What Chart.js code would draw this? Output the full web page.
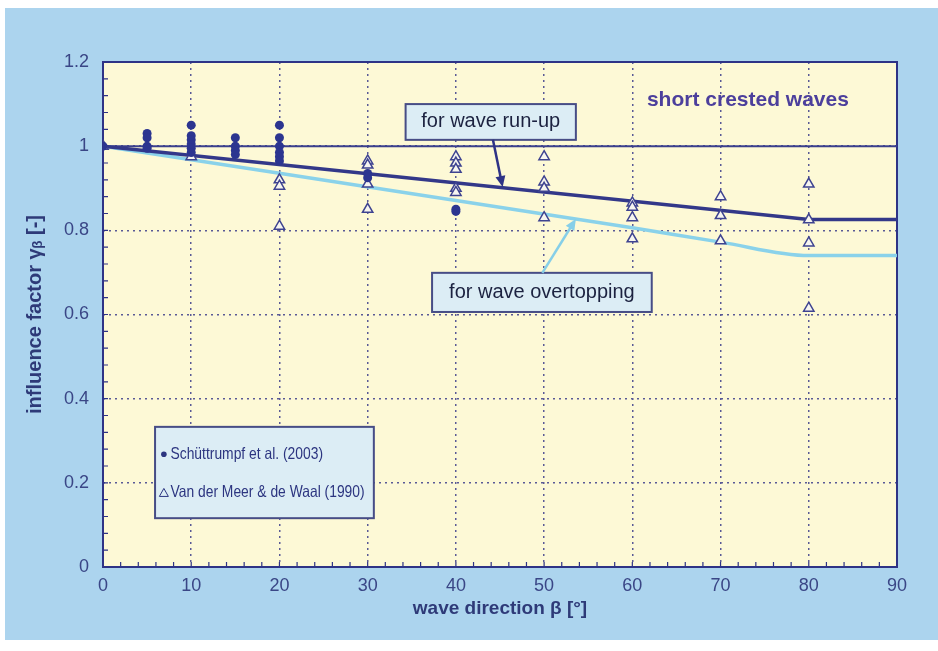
<!DOCTYPE html>
<html>
<head>
<meta charset="utf-8">
<script src="https://cdn.jsdelivr.net/npm/chart.js@4.4.1/dist/chart.umd.min.js"></script>
<style>
  html, body { margin: 0; padding: 0; background: #fff; }
  #wrap { width: 938px; height: 651px; position: relative; }
</style>
</head>
<body>
<div id="wrap"><canvas id="chart" width="938" height="651"></canvas></div>
<script>
// axis ticks
var xTicks = [0, 10, 20, 30, 40, 50, 60, 70, 80, 90];
var yTicks = [0, 0.2, 0.4, 0.6, 0.8, 1, 1.2];

// design lines
var runupX = [0, 80, 90];
var runupY = [1.0, 0.826, 0.826];
var overX = [0, 60, 70, 80, 90];
var overY = [1.0, 0.806, 0.772, 0.740, 0.740];
var refX = [0, 90];
var refY = [1.0, 1.0];

// Schuettrumpf et al. (2003)
var schX = [0, 5, 5, 5, 5, 10, 10, 10, 10, 10, 10, 15, 15, 15, 15, 20, 20, 20, 20, 20, 20, 30, 30, 40, 40];
var schY = [1.0, 1.03, 1.02, 1.0, 0.995, 1.05, 1.025, 1.015, 1.005, 0.995, 0.985, 1.02, 1.0, 0.99, 0.98,
            1.05, 1.02, 1.0, 0.985, 0.975, 0.965, 0.935, 0.925, 0.85, 0.845];

// Van der Meer & de Waal (1990)
var vdmX = [0, 10, 20, 20, 20, 30, 30, 30, 30, 40, 40, 40, 40, 40, 50, 50, 50, 50, 60, 60, 60, 60, 70, 70, 70, 80, 80, 80, 80];
var vdmY = [1.0, 0.975, 0.92, 0.905, 0.81, 0.965, 0.955, 0.91, 0.85, 0.975, 0.96, 0.945, 0.9, 0.89,
            0.975, 0.915, 0.9, 0.83, 0.865, 0.855, 0.83, 0.78, 0.88, 0.835, 0.775, 0.91, 0.825, 0.77, 0.615];

function pts(xs, ys) {
  return xs.map(function (x, i) { return { x: x, y: ys[i] }; });
}

var NAVY = '#2e3386';
var LABEL = '#3a4686';
var FONT = '"Liberation Sans", Arial, sans-serif';

/*
背景、枠、小目盛り、注記
*/
var decor = {
  id: 'decor',
  beforeDraw: function (chart) {
    var ctx = chart.ctx, a = chart.chartArea;
    ctx.save();
    ctx.fillStyle = '#ffffff';
    ctx.fillRect(0, 0, chart.width, chart.height);
    ctx.fillStyle = '#acd4ee';
    ctx.fillRect(5, 8, chart.width - 5, 632);
    ctx.fillStyle = '#fdf9d6';
    ctx.fillRect(a.left, a.top, a.right - a.left, a.bottom - a.top);
    ctx.restore();
  },
  beforeDatasetsDraw: function (chart) {
    var ctx = chart.ctx, a = chart.chartArea;
    var xs = chart.scales.x, ys = chart.scales.y;
    ctx.save();
    ctx.strokeStyle = NAVY;
    ctx.lineWidth = 1.2;
    ctx.beginPath();
    for (var v = 0; v <= 90; v += 2) {
      var px = xs.getPixelForValue(v);
      ctx.moveTo(px, a.bottom);
      ctx.lineTo(px, a.bottom - 5);
    }
    for (var k = 0; k <= 30; k++) {
      var py = ys.getPixelForValue(k * 0.04);
      ctx.moveTo(a.left, py);
      ctx.lineTo(a.left + 5, py);
    }
    ctx.stroke();
    ctx.lineWidth = 2;
    ctx.strokeRect(a.left, a.top, a.right - a.left, a.bottom - a.top);
    ctx.restore();
  },
  afterDatasetsDraw: function (chart) {
    var ctx = chart.ctx;
    var xs = chart.scales.x, ys = chart.scales.y;
    function X(v) { return xs.getPixelForValue(v); }
    function Y(v) { return ys.getPixelForValue(v); }

    function box(x0, y0, x1, y1) {
      ctx.fillStyle = '#dcedf5';
      ctx.fillRect(X(x0), Y(y0), X(x1) - X(x0), Y(y1) - Y(y0));
      ctx.strokeStyle = '#474d86';
      ctx.lineWidth = 2;
      ctx.strokeRect(X(x0), Y(y0), X(x1) - X(x0), Y(y1) - Y(y0));
    }
    function arrow(x0, y0, x1, y1, color) {
      var ax = X(x0), ay = Y(y0), bx = X(x1), by = Y(y1);
      var ang = Math.atan2(by - ay, bx - ax);
      ctx.strokeStyle = color;
      ctx.fillStyle = color;
      ctx.lineWidth = 2.5;
      ctx.beginPath();
      ctx.moveTo(ax, ay);
      ctx.lineTo(bx - 8 * Math.cos(ang), by - 8 * Math.sin(ang));
      ctx.stroke();
      ctx.beginPath();
      ctx.moveTo(bx, by);
      ctx.lineTo(bx - 11 * Math.cos(ang) + 5 * Math.sin(ang), by - 11 * Math.sin(ang) - 5 * Math.cos(ang));
      ctx.lineTo(bx - 11 * Math.cos(ang) - 5 * Math.sin(ang), by - 11 * Math.sin(ang) + 5 * Math.cos(ang));
      ctx.closePath();
      ctx.fill();
    }
    // 細めの文字（Arial Narrow 風）
    function narrowText(txt, x, y, sx) {
      ctx.save();
      ctx.translate(x, y);
      ctx.scale(sx, 1);
      ctx.fillText(txt, 0, 0);
      ctx.restore();
    }

    ctx.save();
    // short crested waves
    ctx.font = 'bold 21px ' + FONT;
    ctx.fillStyle = '#4c3f9c';
    ctx.textAlign = 'center';
    ctx.textBaseline = 'middle';
    ctx.fillText('short crested waves', X(73.1), Y(1.11));

    // run-up
    box(34.3, 1.100, 53.6, 1.015);
    ctx.font = '20px ' + FONT;
    ctx.fillStyle = '#1c2240';
    ctx.fillText('for wave run-up', X(43.95), Y(1.058));
    arrow(44.2, 1.015, 45.3, 0.903, '#2e3386');

    // overtopping
    box(37.3, 0.699, 62.2, 0.606);
    ctx.fillStyle = '#1c2240';
    ctx.fillText('for wave overtopping', X(49.75), Y(0.652));
    arrow(49.8, 0.699, 53.6, 0.827, '#86cfe8');

    // legend
    box(5.9, 0.333, 30.7, 0.116);
    ctx.font = '16.5px ' + FONT;
    ctx.fillStyle = '#2c3580';
    ctx.textAlign = 'left';
    narrowText('Schüttrumpf et al. (2003)', X(7.65), Y(0.268), 0.84);
    narrowText('Van der Meer & de Waal (1990)', X(7.65), Y(0.176), 0.84);
    ctx.beginPath();
    ctx.arc(X(6.9), Y(0.268), 2.8, 0, Math.PI * 2);
    ctx.fill();
    var tx = X(6.9), ty = Y(0.176);
    ctx.strokeStyle = '#2c3580';
    ctx.lineWidth = 1;
    ctx.beginPath();
    ctx.moveTo(tx, ty - 4.5);
    ctx.lineTo(tx + 4.5, ty + 3.5);
    ctx.lineTo(tx - 4.5, ty + 3.5);
    ctx.closePath();
    ctx.stroke();
    ctx.restore();
  }
};

var config = {
  type: 'scatter',
  data: {
    datasets: [{
      label: 'Schüttrumpf et al. (2003)',
      data: pts(schX, schY),
      pointStyle: 'circle',
      pointRadius: 4.5,
      backgroundColor: '#2c3590',
      borderColor: '#2c3590',
      borderWidth: 0
    }, {
      label: 'Van der Meer & de Waal (1990)',
      data: pts(vdmX, vdmY),
      pointStyle: 'triangle',
      pointRadius: 6,
      backgroundColor: '#f6f5f0',
      borderColor: '#3e4390',
      borderWidth: 1.5
    }, {
      label: 'for wave run-up',
      data: pts(runupX, runupY),
      showLine: true,
      pointRadius: 0,
      borderColor: '#333889',
      borderWidth: 3.5
    }, {
      label: 'for wave overtopping',
      data: pts(overX, overY),
      showLine: true,
      pointRadius: 0,
      cubicInterpolationMode: 'monotone',
      borderColor: '#8ad2ea',
      borderWidth: 3.5
    }, {
      label: 'ref',
      data: pts(refX, refY),
      showLine: true,
      pointRadius: 0,
      borderColor: '#3a3f8c',
      borderWidth: 2
    }]
  },
  options: {
    responsive: false,
    animation: false,
    layout: { padding: { top: 62, right: 41, left: 0, bottom: 0 } },
    plugins: { legend: { display: false }, tooltip: { enabled: false } },
    scales: {
      x: {
        type: 'linear',
        min: 0, max: 90,
        afterBuildTicks: function (s) { s.ticks = xTicks.map(function (v) { return { value: v }; }); },
        afterFit: function (s) { s.height = 84; },
        grid: { color: '#5a5a96', lineWidth: 1.5, drawTicks: false },
        border: { display: false, dash: [2, 4] },
        ticks: { padding: 8, color: LABEL, font: { family: FONT, size: 18 } },
        title: {
          display: true, text: 'wave direction β [°]', color: '#2e3a78',
          font: { family: FONT, size: 19, weight: 'bold' }, padding: { top: 0, bottom: 31 }
        }
      },
      y: {
        type: 'linear',
        min: 0, max: 1.2,
        afterBuildTicks: function (s) { s.ticks = yTicks.map(function (v) { return { value: v }; }); },
        afterFit: function (s) { s.width = 103; },
        grid: { color: '#5a5a96', lineWidth: 1.5, drawTicks: false },
        border: { display: false, dash: [2, 4] },
        ticks: {
          padding: 14, color: LABEL, font: { family: FONT, size: 18 },
          callback: function (v) { return String(Number(v.toFixed(1))); }
        },
        title: {
          display: true, text: 'influence factor γᵦ [-]', color: '#2e3a78',
          font: { family: FONT, size: 20, weight: 'bold' }, padding: { top: 23, bottom: 0 }
        }
      }
    }
  },
  plugins: [decor]
};

var ctx = document.getElementById('chart').getContext('2d');
window.myChart = new Chart(ctx, config);
</script>
</body>
</html>
